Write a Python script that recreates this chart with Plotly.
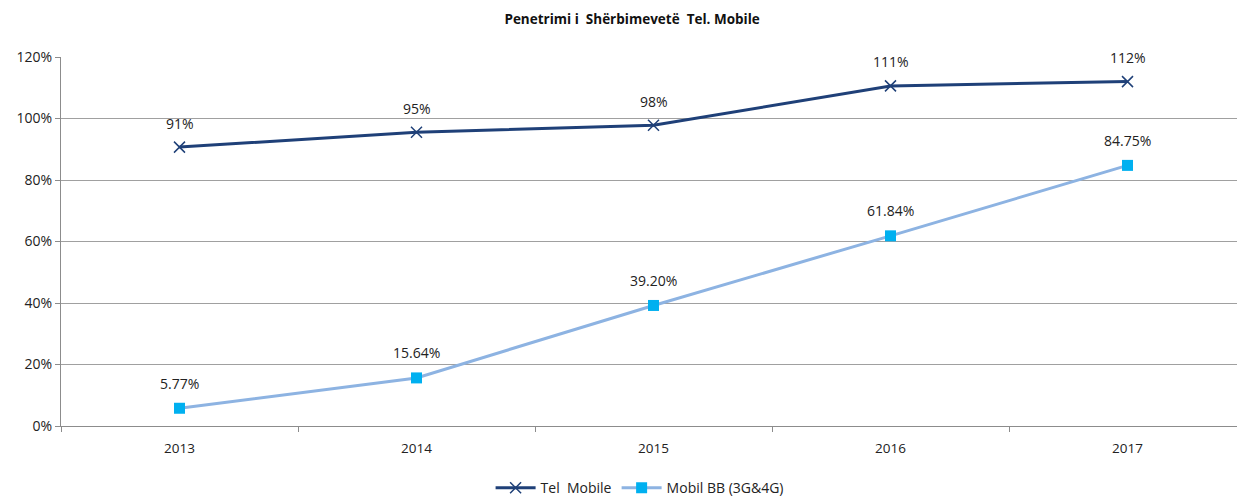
import plotly.graph_objects as go

years = ["2013", "2014", "2015", "2016", "2017"]
tel_mobile = [90.7, 95.5, 97.8, 110.6, 112.0]
tel_labels = ["91%", "95%", "98%", "111%", "112%"]
mobil_bb = [5.77, 15.64, 39.20, 61.84, 84.75]
bb_labels = ["5.77%", "15.64%", "39.20%", "61.84%", "84.75%"]
y_ticks = [0, 20, 40, 60, 80, 100, 120]
y_tick_labels = ["0%", "20%", "40%", "60%", "80%", "100%", "120%"]

font_family = "Open Sans, Noto Sans, sans-serif"

fig = go.Figure()
fig.add_trace(go.Scatter(
    x=years, y=tel_mobile, mode="lines+markers", name="Tel  Mobile",
    line=dict(color="#1F4078", width=3),
    marker=dict(symbol="x-thin", size=11, line=dict(color="#1F4078", width=1.5), color="#1F4078"),
))
fig.add_trace(go.Scatter(
    x=years, y=mobil_bb, mode="lines+markers", name="Mobil BB (3G&4G)",
    line=dict(color="#8DB3E2", width=3),
    marker=dict(symbol="square", size=11, color="#00B0F0"),
))

annotations = []
for i, (y, t) in enumerate(zip(tel_mobile, tel_labels)):
    annotations.append(dict(x=i, y=y, xref="x", yref="y", text=t, showarrow=False, yshift=24,
                            font=dict(size=14, color="#222222", family=font_family)))
for i, (y, t) in enumerate(zip(mobil_bb, bb_labels)):
    annotations.append(dict(x=i, y=y, xref="x", yref="y", text=t, showarrow=False, yshift=25,
                            font=dict(size=14, color="#222222", family=font_family)))

fig.update_layout(
    width=1237, height=496,
    margin=dict(l=61, r=0, t=57, b=70),
    paper_bgcolor="white", plot_bgcolor="white",
    title=dict(text="<b>Penetrimi i  Shërbimevetë  Tel. Mobile</b>", x=0.511, xanchor="center",
               y=0.962, yanchor="middle", font=dict(size=13.5, color="#111111", family=font_family)),
    font=dict(family=font_family, size=13, color="#222222"),
    showlegend=True,
    legend=dict(orientation="h", x=0.492, xanchor="center", yref="container", y=0.016, yanchor="middle",
                font=dict(size=14, color="#222222"), bgcolor="rgba(0,0,0,0)", itemwidth=40),
    annotations=annotations,
    xaxis=dict(type="category", range=[-0.5, 4.462], showgrid=False, automargin=False,
               showline=True, linecolor="#8C8C8C", linewidth=1,
               ticks="outside", tickson="boundaries", ticklen=5, tickcolor="#8C8C8C",
               ticklabelstandoff=10,
               tickfont=dict(size=13.5, color="#222222")),
    yaxis=dict(range=[0, 120], tickvals=y_ticks, ticktext=y_tick_labels, automargin=False,
               showgrid=True, gridcolor="#A0A0A0", gridwidth=1.2,
               showline=True, linecolor="#8C8C8C", linewidth=1,
               ticks="outside", ticklen=5, tickcolor="#8C8C8C", zeroline=False,
               tickfont=dict(size=14, color="#222222")),
)

fig.write_html("out.html", config={"displayModeBar": False},
               post_script="document.body.style.margin='0';document.body.style.overflow='hidden';")
